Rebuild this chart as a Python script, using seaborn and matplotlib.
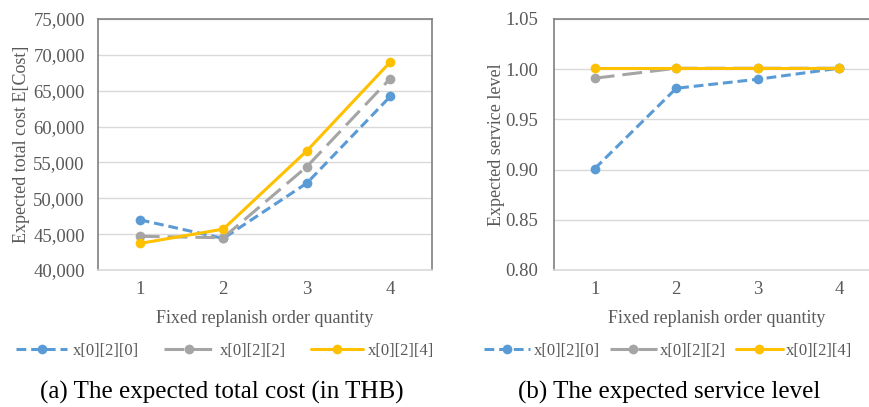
import matplotlib
matplotlib.use("Agg")
import matplotlib.pyplot as plt
import seaborn as sns
import pandas as pd

# Fixed replenish order quantity (category axis)
quantities = [1, 2, 3, 4]
series_names = ["x[0][2][0]", "x[0][2][2]", "x[0][2][4]"]

# Expected total cost E[Cost] (THB)
cost_x0 = [47000, 44400, 52100, 64200]
cost_x2 = [44700, 44500, 54400, 66700]
cost_x4 = [43700, 45700, 56600, 69000]

# Expected service level
service_x0 = [0.901, 0.981, 0.990, 1.001]
service_x2 = [0.991, 1.001, 1.001, 1.001]
service_x4 = [1.001, 1.001, 1.001, 1.001]

cost_ticks = [40000, 45000, 50000, 55000, 60000, 65000, 70000, 75000]
service_ticks = [0.80, 0.85, 0.90, 0.95, 1.00, 1.05]

colors = {"x[0][2][0]": "#5B9BD5", "x[0][2][2]": "#A5A5A5", "x[0][2][4]": "#FFC000"}
dashes = {"x[0][2][0]": (3.2, 1.6), "x[0][2][2]": (6.5, 2.6), "x[0][2][4]": ""}
markers = {name: "o" for name in series_names}

def long_frame(values_by_series, col):
    rows = []
    for name, vals in zip(series_names, values_by_series):
        for q, v in zip(quantities, vals):
            rows.append({"q": q, col: v, "series": name})
    return pd.DataFrame(rows)

cost_df = long_frame([cost_x0, cost_x2, cost_x4], "cost")
service_df = long_frame([service_x0, service_x2, service_x4], "service")

sns.set_theme(style="white")
plt.rcParams["font.family"] = ["Liberation Serif", "DejaVu Serif"]
text_color = "#595959"
plt.rcParams["text.color"] = text_color

fig = plt.figure(figsize=(8.70, 4.07), dpi=100)
ax1 = fig.add_axes([98 / 870, 1 - 270 / 407, 334 / 870, 251 / 407])
ax2 = fig.add_axes([554 / 870, 1 - 270 / 407, 326 / 870, 251 / 407])


def draw(ax, df, col, ticks, fmt, ylabel, ypad, ylabel_x):
    sns.lineplot(data=df, x="q", y=col, hue="series", style="series",
                 palette=colors, dashes=dashes, markers=markers,
                 linewidth=2.2, markersize=7, markeredgewidth=0,
                 ax=ax, legend=True)
    ax.set_xlim(0.5, 4.5)
    ax.set_ylim(ticks[0], ticks[-1])
    ax.set_xticks(quantities)
    ax.set_xticklabels([str(q) for q in quantities])
    ax.set_yticks(ticks)
    ax.set_yticklabels([fmt(t) for t in ticks])
    ax.tick_params(axis="both", length=0, labelsize=13.5, colors=text_color)
    ax.tick_params(axis="y", pad=ypad)
    ax.tick_params(axis="x", pad=8)
    ax.yaxis.grid(True, color="#D9D9D9", linewidth=1.0)
    ax.set_axisbelow(True)
    for side in ("left", "top", "right"):
        ax.spines[side].set_color("#7F7F7F")
        ax.spines[side].set_linewidth(1.2)
    ax.spines["bottom"].set_color("#D9D9D9")
    ax.spines["bottom"].set_linewidth(1.2)
    ax.set_xlabel("Fixed replanish order quantity", fontsize=13,
                  color=text_color, labelpad=8.5)
    ax.set_ylabel(ylabel, fontsize=13, color=text_color)
    ax.yaxis.set_label_coords(ylabel_x, 0.5)
    handles, labels = ax.get_legend_handles_labels()
    ax.get_legend().remove()
    return handles, labels


h1, l1 = draw(ax1, cost_df, "cost", cost_ticks, lambda t: f"{t:,.0f}",
              "Expected total cost E[Cost]", 9.5, -0.205)
h2, l2 = draw(ax2, service_df, "service", service_ticks, lambda t: f"{t:.2f}",
              "Expected service level", 11.5, -0.151)

fig.legend(h1, l1, loc="center", bbox_to_anchor=(225 / 870, 1 - 351 / 407),
           ncol=3, frameon=False, fontsize=12, handlelength=3.1,
           handletextpad=0.3, columnspacing=1.5, labelcolor=text_color)
fig.legend(h2, l2, loc="center", bbox_to_anchor=(668 / 870, 1 - 351 / 407),
           ncol=3, frameon=False, fontsize=12, handlelength=2.8,
           handletextpad=0.2, columnspacing=0.6, labelcolor=text_color)

fig.text(222 / 870, 1 - 392 / 407, "(a) The expected total cost (in THB)",
         ha="center", va="center", fontsize=18, color="#000000")
fig.text(669 / 870, 1 - 392 / 407, "(b) The expected service level",
         ha="center", va="center", fontsize=18, color="#000000")

fig.savefig("out.png", dpi=100)
